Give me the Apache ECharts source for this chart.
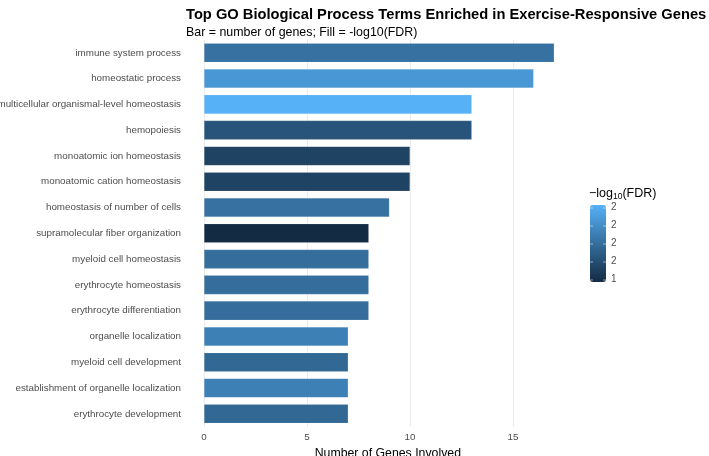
<!DOCTYPE html>
<html>
<head>
<meta charset="utf-8">
<script src="https://cdn.jsdelivr.net/npm/echarts@6/dist/echarts.min.js"></script>
<style>html,body{margin:0;padding:0;background:#fff;}#c{width:709px;height:456px;}</style>
</head>
<body>
<div id="c"></div>
<script>
const categories = [
  "immune system process",
  "homeostatic process",
  "multicellular organismal-level homeostasis",
  "hemopoiesis",
  "monoatomic ion homeostasis",
  "monoatomic cation homeostasis",
  "homeostasis of number of cells",
  "supramolecular fiber organization",
  "myeloid cell homeostasis",
  "erythrocyte homeostasis",
  "erythrocyte differentiation",
  "organelle localization",
  "myeloid cell development",
  "establishment of organelle localization",
  "erythrocyte development"
];
const geneCounts = [17, 16, 13, 13, 10, 10, 9, 8, 8, 8, 8, 7, 7, 7, 7];
const negLog10FDR = [1.61, 1.73, 1.81, 1.52, 1.465, 1.465, 1.61, 1.39, 1.60, 1.60, 1.60, 1.655, 1.58, 1.655, 1.58];
const xTicks = [0, 5, 10, 15];
const legendLabels = ["2", "2", "2", "2", "1"];

const FONT = "Liberation Sans";
const chart = echarts.init(document.getElementById('c'), null, {renderer: 'canvas'});

const data = categories.map((c, i) => [geneCounts[i], c, negLog10FDR[i]]);

const gridLeft = 204, unit = 20.6;
const legTop = 205, legH = 77, legLeft = 590;
const graphics = [
  {type: 'text', left: legLeft - 1, top: 187, z: 100, style: {
    text: '{n|−log}{s|10}{n|(FDR)}',
    rich: {
      n: {fontFamily: FONT, fontSize: 12.5, fill: '#000'},
      s: {fontFamily: FONT, fontSize: 8.5, fill: '#000', padding: [7, 0, 0, 0]}
    }
  }}
];
legendLabels.forEach((t, i) => {
  const y = 208 + i * 18;
  graphics.push({type: 'text', left: 611, top: y - 5.5, z: 100, style: {text: t, fontFamily: FONT, fontSize: 10, fill: '#4D4D4D'}});
  graphics.push({type: 'line', z: 100, shape: {x1: legLeft, y1: y, x2: legLeft + 3, y2: y}, style: {stroke: '#fff', lineWidth: 1, opacity: 0.5}});
  graphics.push({type: 'line', z: 100, shape: {x1: legLeft + 13, y1: y, x2: legLeft + 16, y2: y}, style: {stroke: '#fff', lineWidth: 1, opacity: 0.5}});
});

chart.setOption({
  animation: false,
  backgroundColor: '#fff',
  title: {
    text: 'Top GO Biological Process Terms Enriched in Exercise-Responsive Genes',
    subtext: 'Bar = number of genes; Fill = -log10(FDR)',
    left: 181, top: 2,
    itemGap: 5,
    textStyle: {fontFamily: FONT, fontSize: 14.7, fontWeight: 'bold', color: '#000'},
    subtextStyle: {fontFamily: FONT, fontSize: 12.4, color: '#000'}
  },
  grid: {left: gridLeft, top: 39.9, width: 17.85 * unit, height: 386.8, containLabel: false, outerBoundsMode: 'none'},
  xAxis: {
    type: 'value', min: 0, max: 17.85, interval: 5,
    name: 'Number of Genes Involved', nameLocation: 'middle', nameGap: 19,
    nameTextStyle: {fontFamily: FONT, fontSize: 12.3, color: '#000'},
    axisLine: {show: false}, axisTick: {show: false},
    axisLabel: {fontFamily: FONT, fontSize: 9.8, color: '#4D4D4D', margin: 6,
      showMaxLabel: false,
      formatter: v => xTicks.includes(v) ? String(v) : ''},
    splitLine: {show: true, showMinLine: true, showMaxLine: false, lineStyle: {color: '#EBEBEB', width: 1}}
  },
  yAxis: {
    type: 'category', data: categories, inverse: true,
    axisLine: {show: false}, axisTick: {show: false},
    axisLabel: {fontFamily: FONT, fontSize: 9.8, color: '#4D4D4D', margin: 23},
    splitLine: {show: false}
  },
  visualMap: {
    type: 'continuous', dimension: 2, min: 1.39, max: 1.81,
    inRange: {color: ['#132B43', '#56B1F7']},
    left: legLeft, top: legTop, itemWidth: 16, itemHeight: legH, padding: 0,
    calculable: false, text: null, showLabel: false, orient: 'vertical',
    textStyle: {color: 'transparent'}, seriesIndex: 0
  },
  graphic: graphics,
  series: [{
    type: 'bar', data: data, encode: {x: 0, y: 1},
    barCategoryGap: '26%',
    itemStyle: {borderColor: 'rgba(255,255,255,0.25)', borderWidth: 0.5}
  }]
});
</script>
</body>
</html>
